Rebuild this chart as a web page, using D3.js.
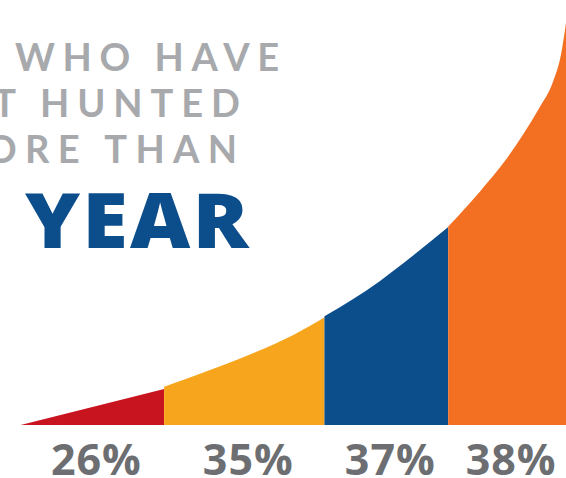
<!DOCTYPE html>
<html>
<head>
<meta charset="utf-8">
<script src="https://cdn.jsdelivr.net/npm/d3@7"></script>
<style>
  html, body { margin: 0; padding: 0; background: #ffffff; overflow: hidden; }
  svg { display: block; }
</style>
</head>
<body>
<svg id="chart" width="566" height="478"></svg>
<script>
// ---- data ----
const values = [26, 35, 37, 38];
const segmentColors = ["#c8141e", "#f7a51c", "#0c4e8c", "#f36f21"];
// curve outline of each segment: [x, height] in chart units (0..100)
const redCurve    = [[0, 0], [26.3, 8.5]];
const yellowCurve = [[26.3, 9.0], [31.65, 11.5], [37.8, 14.4], [43.9, 17.6], [50.0, 21.2], [55.7, 25.3]];
const blueCurve   = [[55.7, 25.6], [60.9, 29.6], [65.9, 33.9], [71.9, 39.8], [78.4, 46.6]];
const orangeCurve = [[78.4, 46.7], [84.2, 54.9], [89.2, 62.8], [92.3, 68.7], [95.2, 74.8], [97.6, 80.7], [99.1, 87.3], [100, 94.6]];
const segments = [redCurve, yellowCurve, blueCurve, orangeCurve];
const titleLines = ["HUNTERS WHO HAVE", "NOT HUNTED", "MORE THAN", "ONE YEAR"];

// ---- layout ----
const svg = d3.select("#chart");
const x = d3.scaleLinear().domain([0, 100]).range([20.7, 566]);
const y = d3.scaleLinear().domain([0, 100]).range([425, 0]);

const area = d3.area()
  .x(d => x(d[0]))
  .y0(y(0))
  .y1(d => y(d[1]))
  .curve(d3.curveMonotoneX);

svg.append("g").selectAll("path")
  .data(segments)
  .join("path")
  .attr("d", d => area(d))
  .attr("fill", (d, i) => segmentColors[i]);

// labels centred under each segment
svg.append("g").selectAll("text")
  .data(values)
  .join("text")
  .attr("x", (d, i) => {
    const s = segments[i];
    return x((s[0][0] + s[s.length - 1][0]) / 2) + 4;
  })
  .attr("y", 475)
  .attr("text-anchor", "middle")
  .attr("font-family", "'Open Sans', sans-serif")
  .attr("font-weight", 700)
  .attr("font-size", 43)
  .attr("letter-spacing", 1)
  .attr("fill", "#6d6e71")
  .text(d => d + "%");

// title lines (cropped on the left, as in the original)
const lineSpecs = [
  { first: 8, start: 15, end: 279, base: 71,  size: 38, weight: 700, color: "#a7a9ac", font: "Lato, sans-serif", fit: "spacing" },
  { first: 4, start: 40, end: 240, base: 117, size: 38, weight: 700, color: "#a7a9ac", font: "Lato, sans-serif", fit: "spacing" },
  { first: 2, start: 25, end: 237, base: 163, size: 38, weight: 700, color: "#a7a9ac", font: "Lato, sans-serif", fit: "spacing" },
  { first: 4, start: 25, end: 251, base: 248, size: 76, weight: 800, color: "#0c4e8c", font: "'Open Sans', sans-serif", fit: "scale" }
];
const tg = svg.append("g");
titleLines.forEach((t, i) => {
  const s = lineSpecs[i];
  const el = tg.append("text")
    .attr("x", 0)
    .attr("y", s.base)
    .attr("font-family", s.font)
    .attr("font-weight", s.weight)
    .attr("font-size", s.size)
    .attr("fill", s.color)
    .text(t);
  const node = el.node();
  const last = t.length - 1;
  if (s.fit === "spacing") {
    const w0 = node.getEndPositionOfChar(last).x - node.getStartPositionOfChar(s.first).x;
    const ls = (s.end - s.start - w0) / (last - s.first);
    el.attr("letter-spacing", ls);
    const st = node.getStartPositionOfChar(s.first).x;
    el.attr("x", s.start - st);
  } else {
    el.attr("letter-spacing", 2);
    const st = node.getStartPositionOfChar(s.first).x;
    const w0 = node.getEndPositionOfChar(last).x - st;
    const sx = (s.end - s.start) / w0;
    el.attr("transform", `translate(${s.start},0) scale(${sx},1) translate(${-st},0)`);
  }
});
</script>
</body>
</html>
